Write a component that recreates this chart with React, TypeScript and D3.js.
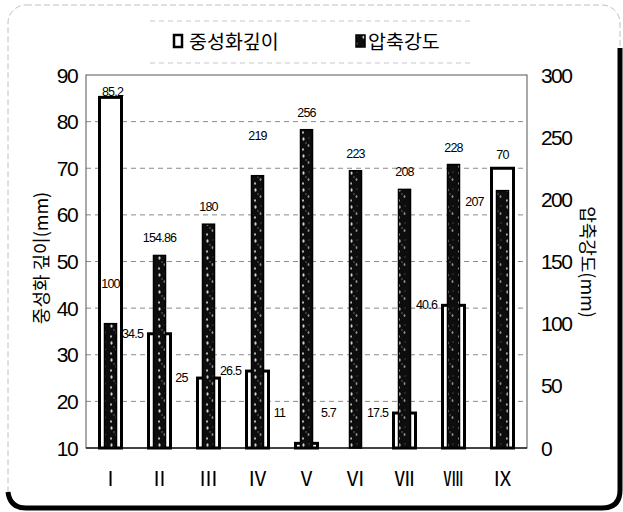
import React from "react";
import * as d3 from "d3";

// Specimen groups
const groups = ["Ⅰ", "Ⅱ", "Ⅲ", "Ⅳ", "Ⅴ", "Ⅵ", "Ⅶ", "Ⅷ", "Ⅸ"];
// Carbonation depth (mm), left axis
const depth = [85.2, 34.5, 25, 26.5, 11, 5.7, 17.5, 40.6, 70];
// Compressive strength, right axis
const strength = [100, 154.86, 180, 219, 256, 223, 208, 228, 207];
const strengthLabels = ["100", "154.86", "180", "219", "256", "223", "208", "228", "207"];
const depthLabels = ["85.2", "34.5", "25", "26.5", "11", "5.7", "17.5", "40.6", "70"];

const leftTicks = [10, 20, 30, 40, 50, 60, 70, 80, 90];
const rightTicks = [0, 50, 100, 150, 200, 250, 300];

const W = 623;
const H = 512;
const plot = { left: 86, right: 527, top: 75, bottom: 448 };

const KR = "'Noto Sans CJK KR', 'Noto Sans', sans-serif";
const NUM = "'Liberation Sans', Arial, sans-serif";

export default function App() {
  const x = d3
    .scaleBand<string>()
    .domain(groups)
    .range([plot.left, plot.right])
    .padding(0);
  const yL = d3.scaleLinear().domain([10, 90]).range([plot.bottom, plot.top]);
  const yR = d3.scaleLinear().domain([0, 300]).range([plot.bottom, plot.top]);

  const outerW = 22;
  const innerW = 12;
  const cx = (g: string) => (x(g) ?? 0) + x.bandwidth() / 2;

  return (
    <svg
      width={W}
      height={H}
      viewBox={`0 0 ${W} ${H}`}
      style={{ position: "absolute", left: 0, top: 0, background: "#fff", opacity: 0.999 }}
    >
      <defs>
        <pattern id="speckle" patternUnits="userSpaceOnUse" width="12" height="17">
          <rect width="12" height="17" fill="#0d0d0d" />
          <ellipse cx="3.5" cy="3" rx="1.1" ry="1.8" fill="#cfcfcf" />
          <ellipse cx="8.5" cy="9.5" rx="0.9" ry="1.6" fill="#8c8c8c" />
          <ellipse cx="3" cy="13.5" rx="0.8" ry="1.2" fill="#e0e0e0" />
          <ellipse cx="9" cy="2" rx="0.6" ry="0.8" fill="#555" />
          <ellipse cx="6" cy="7" rx="0.5" ry="0.7" fill="#aaa" />
        </pattern>
      </defs>

      {/* card border */}
      <rect
        x={8}
        y={5}
        width={612}
        height={503}
        rx={18}
        fill="none"
        stroke="#c0c0c0"
        strokeWidth={1}
        strokeDasharray="6 3"
      />
      <path
        d="M620,48 L620,490 Q620,508 602,508 L26,508 Q10,508 8,492"
        fill="none"
        stroke="#000"
        strokeWidth={5}
      />

      {/* legend frame */}
      <line x1={150} x2={470} y1={21} y2={21} stroke="#c8c8c8" strokeDasharray="5 4" />
      <line x1={150} x2={470} y1={63} y2={63} stroke="#c8c8c8" strokeDasharray="5 4" />

      {/* legend */}
      <rect x={174} y={35} width={8} height={12} fill="#fff" stroke="#000" strokeWidth={2.5} />
      <text x={189} y={49} fontFamily={KR} fontSize={19.5} fill="#000">
        중성화깊이
      </text>
      <rect x={356} y={35} width={9} height={12} fill="url(#speckle)" stroke="#000" strokeWidth={1.5} />
      <text x={368} y={49} fontFamily={KR} fontSize={19.5} fill="#000">
        압축강도
      </text>

      {/* gridlines */}
      {leftTicks
        .filter((t) => t > 10 && t < 90)
        .map((t) => (
          <line
            key={`g${t}`}
            x1={plot.left}
            x2={plot.right}
            y1={yL(t)}
            y2={yL(t)}
            stroke="#8a8a8a"
            strokeWidth={1}
            strokeDasharray="5 4"
          />
        ))}

      {/* plot frame */}
      <rect
        x={plot.left}
        y={plot.top}
        width={plot.right - plot.left}
        height={plot.bottom - plot.top}
        fill="none"
        stroke="#555"
        strokeWidth={1}
      />
      <line x1={plot.left} x2={plot.right} y1={plot.bottom} y2={plot.bottom} stroke="#222" strokeWidth={1.5} />

      {/* bars */}
      {groups.map((g, i) => {
        const c = cx(g);
        const d = Math.max(depth[i], 10);
        const dTop = yL(d);
        const sTop = yR(strength[i]);
        return (
          <g key={g}>
            {depth[i] > 10 && (
              <rect
                x={c - outerW / 2}
                y={dTop}
                width={outerW}
                height={plot.bottom - dTop}
                fill="#fff"
                stroke="#000"
                strokeWidth={3}
              />
            )}
            <rect
              x={c - innerW / 2}
              y={sTop}
              width={innerW}
              height={plot.bottom - sTop}
              fill="url(#speckle)"
              stroke="#000"
              strokeWidth={1.5}
            />
          </g>
        );
      })}

      {/* strength value labels */}
      {groups.map((g, i) => {
        const c = cx(g);
        const top = yR(strength[i]);
        let lx = c;
        let ly = top - 17;
        if (i === 0 || i === 3) ly = top - 40;
        if (i === 8) {
          lx = c - 28;
          ly = top + 11;
        }
        return (
          <text
            key={`s${g}`}
            x={lx}
            y={ly}
            textAnchor="middle"
            dominantBaseline="central"
            fontFamily={NUM}
            fontSize={12.5}
            letterSpacing={-0.8}
            fill="#000"
          >
            {strengthLabels[i]}
          </text>
        );
      })}

      {/* depth value labels */}
      {groups.map((g, i) => {
        const c = cx(g);
        const top = yL(Math.max(depth[i], 10));
        let lx = c - 27;
        let ly = Math.min(top, 413);
        if (i === 0) {
          lx = c + 2;
          ly = top - 5;
        } else if (i === 8) {
          lx = c;
          ly = top - 13;
        }
        return (
          <text
            key={`d${g}`}
            x={lx}
            y={ly}
            textAnchor="middle"
            dominantBaseline="central"
            fontFamily={NUM}
            fontSize={12.5}
            letterSpacing={-0.8}
            fill="#000"
          >
            {depthLabels[i]}
          </text>
        );
      })}

      {/* left axis ticks */}
      {leftTicks.map((t) => (
        <text
          key={`l${t}`}
          x={77}
          y={yL(t)}
          textAnchor="end"
          dominantBaseline="central"
          fontFamily={NUM}
          fontSize={21}
          letterSpacing={-1.6}
          fill="#000"
        >
          {t}
        </text>
      ))}

      {/* right axis ticks */}
      {rightTicks.map((t) => (
        <text
          key={`r${t}`}
          x={541}
          y={yR(t)}
          textAnchor="start"
          dominantBaseline="central"
          fontFamily={NUM}
          fontSize={21}
          letterSpacing={-1.6}
          fill="#000"
        >
          {t}
        </text>
      ))}

      {/* category labels */}
      {groups.map((g) => (
        <text
          key={`x${g}`}
          x={cx(g)}
          y={477}
          textAnchor="middle"
          dominantBaseline="central"
          fontFamily={KR}
          fontSize={20}
          fill="#000"
        >
          {g}
        </text>
      ))}

      {/* axis titles */}
      <text
        transform={`translate(40, 258) rotate(-90)`}
        textAnchor="middle"
        dominantBaseline="central"
        fontFamily={KR}
        fontSize={18}
        fill="#000"
      >
        중성화 깊이(mm)
      </text>
      <text
        transform={`translate(589, 262) rotate(90)`}
        textAnchor="middle"
        dominantBaseline="central"
        fontFamily={KR}
        fontSize={18}
        fill="#000"
      >
        압축강도(mm)
      </text>
    </svg>
  );
}
